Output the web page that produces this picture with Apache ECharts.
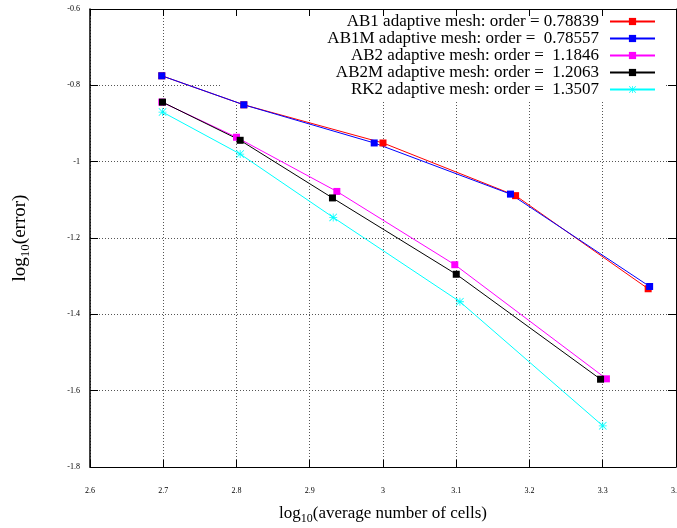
<!DOCTYPE html>
<html>
<head>
<meta charset="utf-8">
<script src="https://cdn.jsdelivr.net/npm/echarts@6/dist/echarts.min.js"></script>
<style>
  html, body { margin: 0; padding: 0; background: #fff; }
  #chart { width: 677px; height: 528px; }
</style>
</head>
<body>
<div id="chart"></div>
<script>
// data (log10 cells, log10 error)
var namesSeries = [
    'AB1 adaptive mesh: order = 0.78839',
    'AB1M adaptive mesh: order =  0.78557',
    'AB2 adaptive mesh: order =  1.1846',
    'AB2M adaptive mesh: order =  1.2063',
    'RK2 adaptive mesh: order =  1.3507'
];
var xAB1  = [2.698, 2.810, 3.000, 3.181, 3.362];
var yAB1  = [-0.775, -0.851, -0.951, -1.089, -1.333];
var xAB1M = [2.698, 2.810, 2.988, 3.174, 3.364];
var yAB1M = [-0.775, -0.851, -0.951, -1.085, -1.327];
var xAB2  = [2.698, 2.800, 2.937, 3.098, 3.305];
var yAB2  = [-0.844, -0.936, -1.078, -1.270, -1.569];
var xAB2M = [2.699, 2.805, 2.931, 3.100, 3.297];
var yAB2M = [-0.844, -0.944, -1.095, -1.295, -1.570];
var xRK2  = [2.699, 2.805, 2.932, 3.105, 3.300];
var yRK2  = [-0.870, -0.980, -1.146, -1.367, -1.692];

var xTicks = [2.6, 3.4, 0.1];   // min, max, step
var yTicks = [-1.8, -0.6, 0.2];

function pairs(xs, ys) {
    return xs.map(function (x, i) { return [x, ys[i]]; });
}

var FONT = 'Liberation Serif';
// gnuplot style asterisk
var STAR = 'path://M0 4.5L10 4.5L10 5.5L0 5.5Z M4.5 0L5.5 0L5.5 10L4.5 10Z M0.7 0L10 9.3L9.3 10L0 0.7Z M9.3 0L10 0.7L0.7 10L0 9.3Z';

function mkSeries(name, xs, ys, color, symbol, size) {
    return {
        name: name,
        type: 'line',
        z: 3,
        data: pairs(xs, ys),
        symbol: symbol,
        symbolSize: size,
        showAllSymbol: true,
        color: color,
        lineStyle: { color: color, width: 1 },
        itemStyle: { color: color },
        emphasis: { disabled: true }
    };
}

var eChart = echarts.init(document.getElementById('chart'));

var option = {
    animation: false,
    backgroundColor: '#fff',
    grid: { left: 90, right: 1, top: 9, bottom: 61, outerBoundsMode: 'none', containLabel: false },
    legend: {
        z: 1,
        orient: 'vertical',
        align: 'right',
        right: 11,
        top: 9,
        padding: [4, 10, 2, 107],
        backgroundColor: '#fff',
        itemWidth: 45,
        itemHeight: 9,
        itemGap: 0,
        selectedMode: false,
        textStyle: { fontFamily: FONT, fontSize: 17, color: '#000', padding: [0, 6, 0, 0] },
        data: namesSeries
    },
    xAxis: [
        {
            type: 'value',
            min: xTicks[0], max: xTicks[1], interval: xTicks[2],
            name: '{a|log}{s|10}{a|(average number of cells)}',
            nameLocation: 'middle',
            nameGap: 35,
            nameTextStyle: {
                rich: {
                    a: { fontFamily: FONT, fontSize: 17, color: '#000' },
                    s: { fontFamily: FONT, fontSize: 12, color: '#000', padding: [11, 0, 0, 0] }
                }
            },
            axisLine: { show: true, onZero: false, lineStyle: { color: '#000', width: 1 } },
            axisTick: { show: true, inside: true, length: 7, lineStyle: { color: '#000' } },
            axisLabel: { fontFamily: FONT, fontSize: 8, color: '#000', margin: 20 },
            splitLine: { show: true, lineStyle: { color: '#555', width: 1, type: [1, 2] } }
        },
        {
            type: 'value',
            position: 'top',
            z: 10,
            min: xTicks[0], max: xTicks[1], interval: xTicks[2],
            axisLine: { show: true, onZero: false, lineStyle: { color: '#000', width: 1 } },
            axisTick: { show: true, inside: true, length: 7, lineStyle: { color: '#000' } },
            axisLabel: { show: false },
            splitLine: { show: false }
        }
    ],
    yAxis: [
        {
            type: 'value',
            min: yTicks[0], max: yTicks[1], interval: yTicks[2],
            name: '{a|log}{s|10}{a|(error)}',
            nameLocation: 'middle',
            nameRotate: 90,
            nameGap: 58,
            nameTextStyle: {
                rich: {
                    a: { fontFamily: FONT, fontSize: 19, color: '#000' },
                    s: { fontFamily: FONT, fontSize: 13, color: '#000', padding: [11, 0, 0, 0] }
                }
            },
            axisLine: { show: true, onZero: false, lineStyle: { color: '#000', width: 1.5 } },
            axisTick: { show: true, inside: true, length: 8, lineStyle: { color: '#000' } },
            axisLabel: { fontFamily: FONT, fontSize: 8, color: '#000', margin: 10 },
            splitLine: { show: true, lineStyle: { color: '#555', width: 1, type: [1, 2] } }
        },
        {
            type: 'value',
            position: 'right',
            z: 10,
            min: yTicks[0], max: yTicks[1], interval: yTicks[2],
            axisLine: { show: true, onZero: false, lineStyle: { color: '#000', width: 1 } },
            axisTick: { show: true, inside: true, length: 8, lineStyle: { color: '#000' } },
            axisLabel: { show: false },
            splitLine: { show: false }
        }
    ],
    series: [
        mkSeries(namesSeries[0], xAB1, yAB1, '#ff0000', 'rect', 7),
        mkSeries(namesSeries[1], xAB1M, yAB1M, '#0000ff', 'rect', 7),
        mkSeries(namesSeries[2], xAB2, yAB2, '#ff00ff', 'rect', 7),
        mkSeries(namesSeries[3], xAB2M, yAB2M, '#000000', 'rect', 7),
        mkSeries(namesSeries[4], xRK2, yRK2, '#00ffff', STAR, 8)
    ]
};

eChart.setOption(option, true);
</script>
</body>
</html>
